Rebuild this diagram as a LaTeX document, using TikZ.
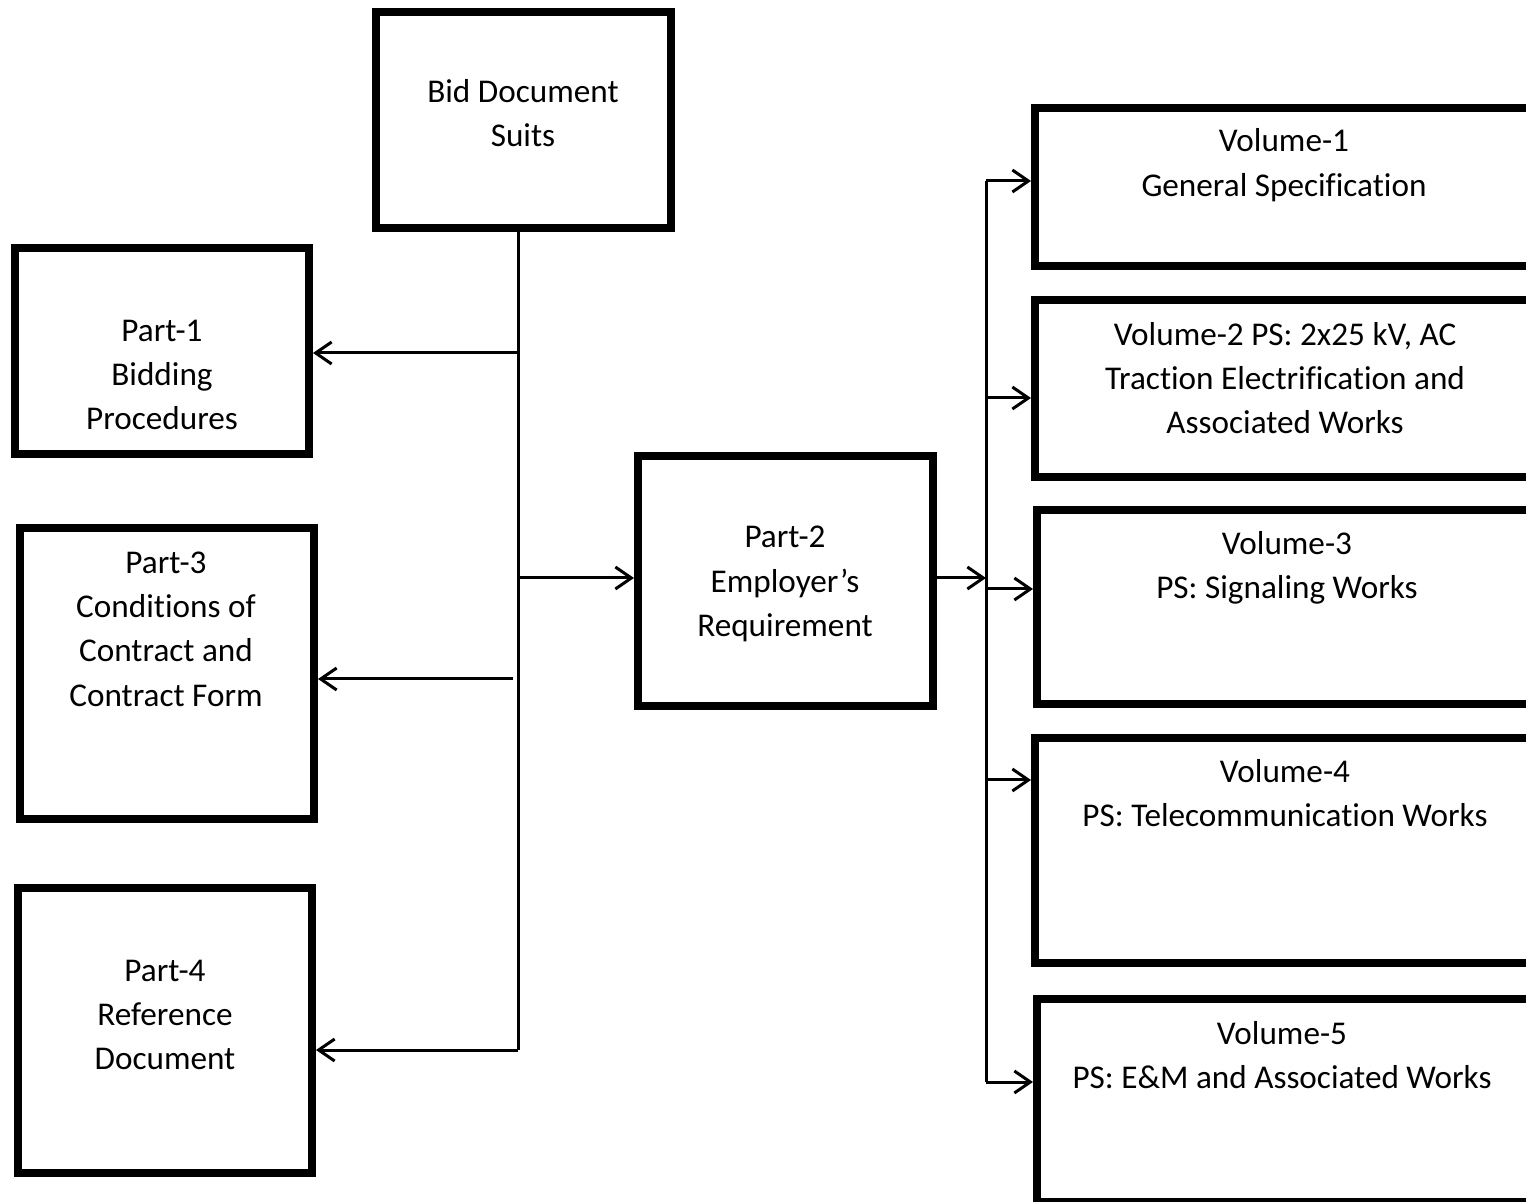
\documentclass[tikz,border=0pt]{standalone}
\usepackage{fontspec}
\setmainfont{Carlito}[Ligatures=NoCommon]
\usetikzlibrary{arrows.meta}
\begin{document}
\begin{tikzpicture}[x=0.5pt,y=-0.5pt,
 box/.style={draw, line width=3.9pt, rectangle, inner sep=0pt},
 lbl/.style={align=center, font=\fontsize{16.6}{22.2}\selectfont, inner sep=0pt},
 conn/.style={line width=1.5pt},
 arr/.style={conn, -{Straight Barb[length=8pt,width=11pt]}}]
\useasboundingbox (0,0) rectangle (1526,1202);
\clip (0,0) rectangle (1526,1202);
% boxes
\node[box, minimum width=147.6pt, minimum height=108.1pt] (bid) at (523.5,120) {};
\node[box, minimum width=147.1pt, minimum height=103.1pt] (p1) at (162,351) {};
\node[box, minimum width=147.1pt, minimum height=145.6pt] (p3) at (167,673.5) {};
\node[box, minimum width=147.1pt, minimum height=142.6pt] (p4) at (165,1030.5) {};
\node[box, minimum width=147.6pt, minimum height=125.1pt] (p2) at (785.5,581) {};
\node[box, minimum width=280.6pt, minimum height=79.1pt] (v1) at (1315.5,187) {};
\node[box, minimum width=280.6pt, minimum height=88.6pt] (v2) at (1315.5,388.5) {};
\node[box, minimum width=279.6pt, minimum height=97.1pt] (v3) at (1316.5,607) {};
\node[box, minimum width=280.6pt, minimum height=112.6pt] (v4) at (1315.5,850.5) {};
\node[box, minimum width=279.6pt, minimum height=101.6pt] (v5) at (1316.5,1100.5) {};
% labels
\node[lbl] (bidt) at (523,113) {Bid Document\\Suits};
\node[lbl] (p1t) at (162,375) {Part-1\\Bidding\\Procedures};
\node[lbl] (p3t) at (166,629) {Part-3\\Conditions of\\Contract and\\Contract Form};
\node[lbl] (p4t) at (165,1015) {Part-4\\Reference\\Document};
\node[lbl] (p2t) at (785,584) {Part-2\\Employer’s\\Requirement};
\node[lbl] (v1t) at (1284,165) {Volume-1\\General Specification};
\node[lbl] (v2t) at (1285,378) {Volume-2 PS: 2x25 kV, AC\\Traction Electrification and\\Associated Works};
\node[lbl] (v3t) at (1287,568) {Volume-3\\PS: Signaling Works};
\node[lbl] (v4t) at (1285,793) {Volume-4\\PS: Telecommunication Works};
\node[lbl] (v5t) at (1282,1055) {Volume-5\\PS: E\&M and Associated Works};
% left trunk
\coordinate (ttop) at (518,232);
\coordinate (t1) at (518,353);
\coordinate (t2) at (518,578);
\coordinate (t3) at (513,679);
\coordinate (t4) at (518,1050);
\draw[conn] (ttop) -- (t4);
\draw[arr] (t1) -- (t1 -| p1.east);
\draw[arr] (t3) -- (t3 -| p3.east);
\draw[arr] (t4) -- (t4 -| p4.east);
\draw[arr] (t2) -- (t2 -| p2.west);
% right trunk
\coordinate (r0) at (986,578);
\coordinate (r1) at (986,181);
\coordinate (r2) at (986,398);
\coordinate (r3) at (986,589);
\coordinate (r4) at (986,780);
\coordinate (r5) at (986,1082);
\draw[arr] (p2.east |- r0) -- (r0);
\draw[conn] (r1) -- (r5);
\draw[arr] (r1) -- (r1 -| v1.west);
\draw[arr] (r2) -- (r2 -| v2.west);
\draw[arr] (r3) -- (r3 -| v3.west);
\draw[arr] (r4) -- (r4 -| v4.west);
\draw[arr] (r5) -- (r5 -| v5.west);
\end{tikzpicture}
\end{document}
